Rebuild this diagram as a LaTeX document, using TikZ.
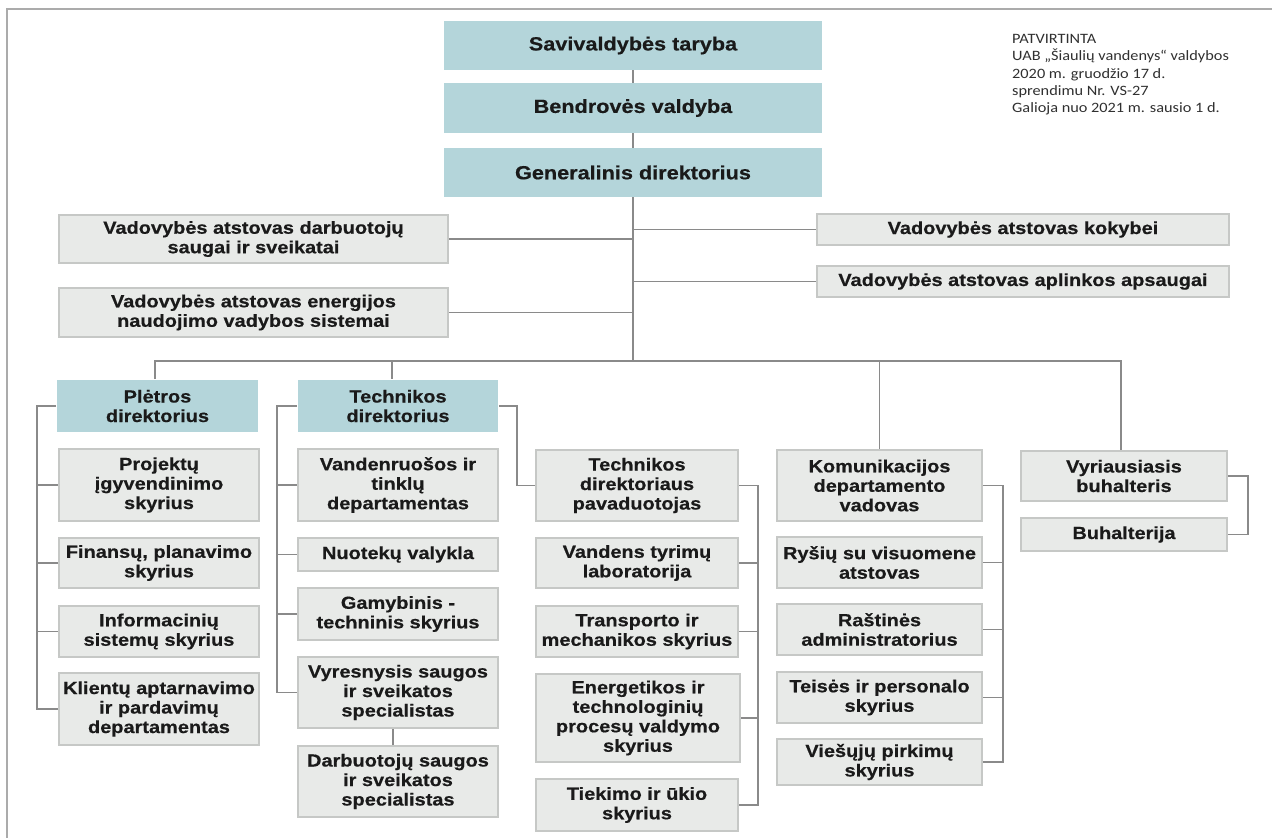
\documentclass[tikz,border=0pt]{standalone}
\usepackage{fontspec}
\setmainfont{Liberation Sans}[FakeStretch=1.14, BoldFeatures={FakeBold=0.5}]
\newfontfamily\notefont{Carlito}[FakeStretch=1.14]
\definecolor{tealbox}{HTML}{B4D5DA}
\definecolor{boxgray}{HTML}{E8EAE8}
\definecolor{boxline}{HTML}{C6C8C6}
\definecolor{lineg}{HTML}{8A8A8A}
\definecolor{framec}{HTML}{ABABAB}
\definecolor{txt}{HTML}{1A1A1A}
\definecolor{notec}{HTML}{303030}
\newcommand\orgbox[7]{\node[#6, minimum width={#4-#2}, minimum height={#5-#3}] (#1) at ({(#2+#4)/2},{(#3+#5)/2}) {#7};}
\tikzset{
  tbox/.style={fill=tealbox, draw=none, inner sep=1pt, align=center, text=txt, font=\bfseries\fontsize{19}{21}\selectfont},
  gbox/.style={fill=boxgray, draw=boxline, line width=1.6pt, inner sep=1pt, align=center, text=txt, font=\bfseries\fontsize{17.5}{19.5}\selectfont},
  dbox/.style={gbox, fill=tealbox, draw=none},
  conn/.style={draw=lineg, line width=1.6pt},
  framel/.style={draw=framec, line width=2pt}
}
\begin{document}
\begin{tikzpicture}[x=1pt,y=-1pt]
\useasboundingbox (0,0) rectangle (1272,838);
\fill[white] (0,0) rectangle (1272,838);
\coordinate (fTL) at (7,9);
\coordinate (fTR) at (1272,9);
\coordinate (fBL) at (7,838);
\draw[framel] (fTR) -- (fTL) -- (fBL);

% top chain
\orgbox{sav}{444}{21}{822}{70}{tbox}{Savivaldybės taryba}
\orgbox{ben}{444}{83}{822}{133}{tbox}{Bendrovės valdyba}
\orgbox{gen}{444}{148}{822}{197}{tbox}{Generalinis direktorius}

% representatives
\orgbox{vad}{59}{215}{448}{263}{gbox}{Vadovybės atstovas darbuotojų\\saugai ir sveikatai}
\orgbox{vae}{59}{288}{448}{337}{gbox}{Vadovybės atstovas energijos\\naudojimo vadybos sistemai}
\orgbox{vak}{817}{214}{1229}{245}{gbox}{Vadovybės atstovas kokybei}
\orgbox{vaa}{817}{266}{1229}{297}{gbox}{Vadovybės atstovas aplinkos apsaugai}

% directors
\orgbox{plet}{57}{380}{258}{432}{dbox}{Plėtros\\direktorius}
\orgbox{tech}{298}{380}{498}{432}{dbox}{Technikos\\direktorius}

% column 1
\orgbox{proj}{59}{449}{259}{521}{gbox}{Projektų\\įgyvendinimo\\skyrius}
\orgbox{fin}{59}{538}{259}{588}{gbox}{Finansų, planavimo\\skyrius}
\orgbox{inf}{59}{606}{259}{657}{gbox}{Informacinių\\sistemų skyrius}
\orgbox{kli}{59}{673}{259}{745}{gbox}{Klientų aptarnavimo\\ir pardavimų\\departamentas}

% column 2
\orgbox{vand}{298}{449}{498}{521}{gbox}{Vandenruošos ir\\tinklų\\departamentas}
\orgbox{nuot}{298}{538}{498}{571}{gbox}{Nuotekų valykla}
\orgbox{gam}{298}{588}{498}{640}{gbox}{Gamybinis -\\techninis skyrius}
\orgbox{vyres}{298}{657}{498}{728}{gbox}{Vyresnysis saugos\\ir sveikatos\\specialistas}
\orgbox{darb}{298}{746}{498}{817}{gbox}{Darbuotojų saugos\\ir sveikatos\\specialistas}

% column 3
\orgbox{pav}{536}{450}{738}{521}{gbox}{Technikos\\direktoriaus\\pavaduotojas}
\orgbox{vtyr}{536}{538}{738}{588}{gbox}{Vandens tyrimų\\laboratorija}
\orgbox{trans}{536}{606}{738}{657}{gbox}{Transporto ir\\mechanikos skyrius}
\orgbox{ener}{536}{674}{740}{762}{gbox}{Energetikos ir\\technologinių\\procesų valdymo\\skyrius}
\orgbox{tiek}{536}{779}{738}{831}{gbox}{Tiekimo ir ūkio\\skyrius}

% column 4
\orgbox{kom}{777}{450}{982}{521}{gbox}{Komunikacijos\\departamento\\vadovas}
\orgbox{rys}{777}{537}{982}{588}{gbox}{Ryšių su visuomene\\atstovas}
\orgbox{rast}{777}{604}{982}{655}{gbox}{Raštinės\\administratorius}
\orgbox{teis}{777}{672}{982}{723}{gbox}{Teisės ir personalo\\skyrius}
\orgbox{vies}{777}{739}{982}{785}{gbox}{Viešųjų pirkimų\\skyrius}

% column 5
\orgbox{vyr}{1021}{451}{1227}{501}{gbox}{Vyriausiasis\\buhalteris}
\orgbox{buh}{1021}{518}{1227}{551}{gbox}{Buhalterija}

% note
\node[anchor=north west, inner sep=0pt, align=left, text=notec, font=\notefont\fontsize{14.3}{17.4}\selectfont] (note) at (1012,34)
  {PATVIRTINTA\\UAB „Šiaulių vandenys“ valdybos\\2020 m. gruodžio 17 d.\\sprendimu Nr. VS-27\\Galioja nuo 2021 m. sausio 1 d.};

% connector helper coordinates
\coordinate (bus) at (0,361);
\coordinate (s1) at (37,0);
\coordinate (s2) at (277,0);
\coordinate (s2r) at (517,0);
\coordinate (s3) at (758,0);
\coordinate (s4) at (1003,0);
\coordinate (s5) at (1248,0);
\coordinate (pletTop) at ([xshift=-2.5pt]plet.north);
\coordinate (techTop) at ([xshift=-6pt]tech.north);
\coordinate (vyrTop) at ([xshift=-3pt]vyr.north);
\coordinate (vyresBot) at ([xshift=-5pt]vyres.south);

% top chain
\draw[conn] (sav.south) -- (ben.north);
\draw[conn] (ben.south) -- (gen.north);
\draw[conn] (gen.south) -- (gen.south |- bus);
\draw[conn] (vad.east) -- (vad.east -| gen.south);
\draw[conn] (vae.east) -- (vae.east -| gen.south);
\draw[conn] (gen.south |- vak.west) -- (vak.west);
\draw[conn] (gen.south |- vaa.west) -- (vaa.west);

% bus
\draw[conn] (pletTop) -- (pletTop |- bus) -- (vyrTop |- bus) -- (vyrTop);
\draw[conn] (techTop |- bus) -- (techTop);
\draw[conn] (kom.north |- bus) -- (kom.north);

% column 1 spine
\draw[conn] (plet.west) -- (s1 |- plet.west) -- (s1 |- kli.west) -- (kli.west);
\draw[conn] (s1 |- proj.west) -- (proj.west);
\draw[conn] (s1 |- fin.west) -- (fin.west);
\draw[conn] (s1 |- inf.west) -- (inf.west);

% column 2 spine
\draw[conn] (tech.west) -- (s2 |- tech.west) -- (s2 |- vyres.west) -- (vyres.west);
\draw[conn] (s2 |- vand.west) -- (vand.west);
\draw[conn] (s2 |- nuot.west) -- (nuot.west);
\draw[conn] (s2 |- gam.west) -- (gam.west);
\draw[conn] (vyresBot) -- (vyresBot |- darb.north);
\draw[conn] (tech.east) -- (s2r |- tech.east) -- (s2r |- pav.west) -- (pav.west);

% column 3 spine
\draw[conn] (pav.east) -- (s3 |- pav.east) -- (s3 |- tiek.east) -- (tiek.east);
\draw[conn] (s3 |- vtyr.east) -- (vtyr.east);
\draw[conn] (s3 |- trans.east) -- (trans.east);
\draw[conn] (s3 |- ener.east) -- (ener.east);

% column 4 spine
\draw[conn] (kom.east) -- (s4 |- kom.east) -- (s4 |- vies.east) -- (vies.east);
\draw[conn] (s4 |- rys.east) -- (rys.east);
\draw[conn] (s4 |- rast.east) -- (rast.east);
\draw[conn] (s4 |- teis.east) -- (teis.east);

% column 5 bracket
\draw[conn] (vyr.east) -- (s5 |- vyr.east) -- (s5 |- buh.east) -- (buh.east);
\end{tikzpicture}
\end{document}
